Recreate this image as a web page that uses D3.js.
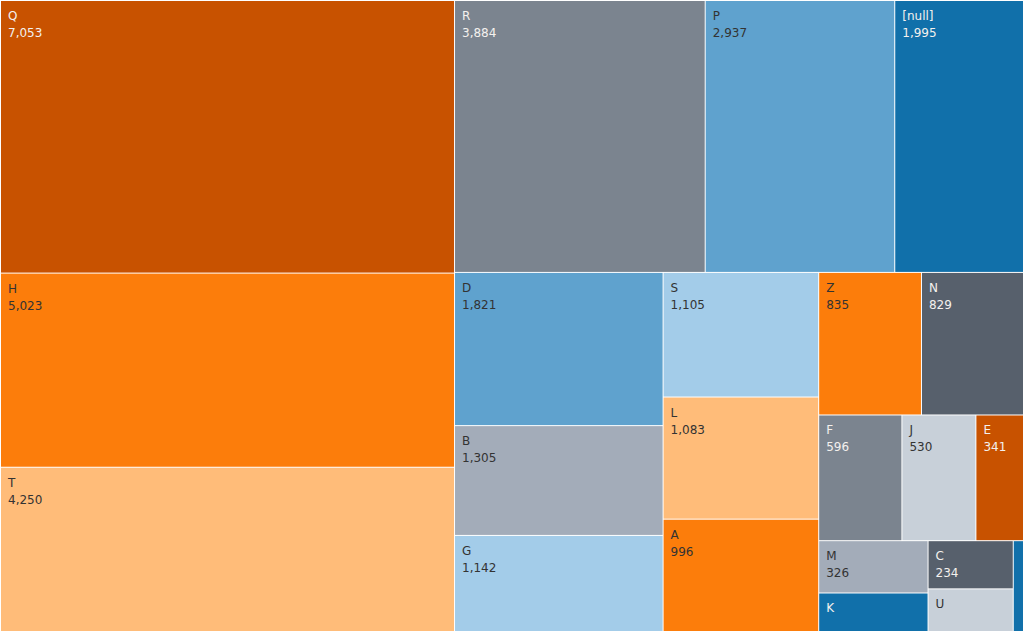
<!DOCTYPE html>
<html>
<head>
<meta charset="utf-8">
<script src="https://cdn.jsdelivr.net/npm/d3@7"></script>
<style>
html,body{margin:0;padding:0;background:#fff;}
svg{display:block;}
text{font-family:"DejaVu Sans",sans-serif;font-size:12px;}
</style>
</head>
<body>
<svg id="chart" width="1024" height="632"></svg>
<script>
// Data
const categories = ["Q","H","T","R","P","[null]","D","B","G","S","L","A","Z","N","F","J","E","M","K","C","U","V"];
const values     = [7053,5023,4250,3884,2937,1995,1821,1305,1142,1105,1083,996,835,829,596,530,341,326,240,234,207,53];
const colors     = ["#c85200","#fc7d0b","#ffbc79","#7b848f","#5fa2ce","#1170aa","#5fa2ce","#a3acb9","#a3cce9","#a3cce9","#ffbc79","#fc7d0b","#fc7d0b","#57606c","#7b848f","#c8d0d9","#c85200","#a3acb9","#1170aa","#57606c","#c8d0d9","#1170aa"];
const lightText  = ["Q","R","[null]","N","F","E","C","K"];
// grouping of the Tableau-style layout (nested strips)
const groups = [["Q","H","T"],[["R","P","[null]"],[["D","B","G"],["S","L","A"],[["Z","N"],["F","J","E"],[["M","K"],["C","U"],"V"]]]]];

const W = 1024, H = 632;
const valueOf = Object.fromEntries(categories.map((c,i)=>[c,values[i]]));
const colorOf = Object.fromEntries(categories.map((c,i)=>[c,colors[i]]));

function build(g){
  if (Array.isArray(g)) return {children: g.map(build)};
  return {name: g, value: valueOf[g]};
}
const root = d3.hierarchy(build(groups)).sum(d => d.value || 0);

d3.treemap()
  .size([W-2, H-2])
  .paddingInner(1)
  .tile((node,x0,y0,x1,y1) => (node.depth % 2 === 0 ? d3.treemapDice : d3.treemapSlice)(node,x0,y0,x1,y1))
  (root);

const svg = d3.select("#chart");
const fmt = d3.format(",");
const leaves = svg.append("g").attr("transform","translate(1,1)")
  .selectAll("g").data(root.leaves()).join("g")
  .attr("transform", d => `translate(${d.x0},${d.y0})`);

leaves.append("rect")
  .attr("width", d => Math.max(0, d.x1-d.x0))
  .attr("height", d => Math.max(0, d.y1-d.y0))
  .attr("fill", d => colorOf[d.data.name]);

leaves.each(function(d){
  const w = d.x1-d.x0, h = d.y1-d.y0;
  const g = d3.select(this);
  const fill = lightText.includes(d.data.name) ? "#f4f1ee" : "#333333";
  const lines = [d.data.name, fmt(d.value)];
  lines.forEach((t,i) => {
    const base = 19 + i*17;
    if (base + 7 > h) return;
    const txt = g.append("text").attr("x",7).attr("y",base).attr("fill",fill).text(t);
    if (txt.node().getComputedTextLength() + 9 > w) txt.remove();
  });
});
</script>
</body>
</html>
